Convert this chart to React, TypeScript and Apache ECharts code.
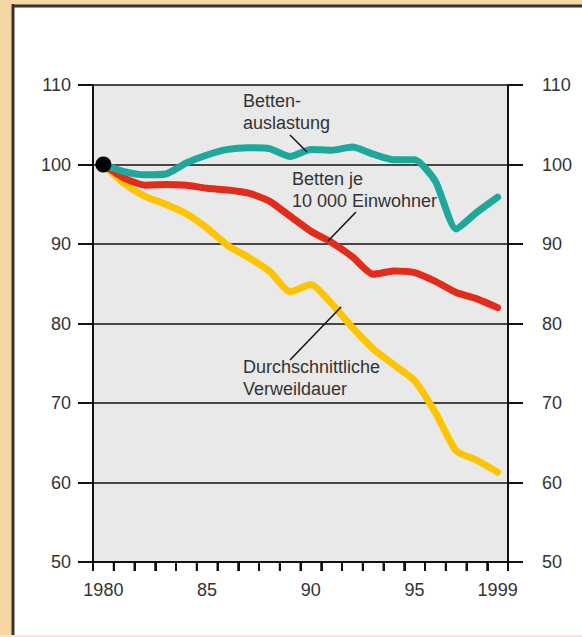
import React, { useEffect, useRef } from 'react';
import * as echarts from 'echarts';

const years = ['1980','1981','1982','1983','1984','1985','1986','1987','1988','1989','1990','1991','1992','1993','1994','1995','1996','1997','1998','1999'];
const xLabelYears = ['1980', '1985', '1990', '1995', '1999'];
const xLabelTexts = ['1980', '85', '90', '95', '1999'];

const bettenauslastung = [100, 99.1, 98.7, 98.8, 100.2, 101.2, 101.9, 102.1, 102.0, 101.0, 101.9, 101.8, 102.2, 101.3, 100.6, 100.6, 97.9, 91.9, 94.0, 95.9];
const bettenJe10000 = [100, 98.3, 97.4, 97.5, 97.4, 97.0, 96.8, 96.4, 95.4, 93.5, 91.6, 90.2, 88.4, 86.2, 86.6, 86.4, 85.3, 83.9, 83.1, 82.0];
const verweildauer = [100, 97.6, 96.0, 95.0, 93.8, 92.0, 89.8, 88.3, 86.6, 84.0, 84.9, 82.5, 79.5, 76.8, 74.8, 72.8, 68.8, 64.0, 62.8, 61.3];
const startPoint = [['1980', 100]];

const yMin = 50;
const yMax = 110;
const yStep = 10;

const FONT = "'Liberation Sans', Arial, sans-serif";
const TXT = '#333333';
const BEIGE = '#f5d7a4';

export default function App() {
  const ref = useRef<HTMLDivElement>(null);
  useEffect(() => {
    if (!ref.current) return;
    const chart = echarts.init(ref.current, undefined, { renderer: 'svg' });
    const yAxisCommon = {
      type: 'value',
      min: yMin,
      max: yMax,
      interval: yStep,
      axisLine: { show: true, lineStyle: { color: '#111', width: 2 } },
      axisTick: { show: true, length: 15, lineStyle: { color: '#111', width: 2 } },
      axisLabel: { color: TXT, fontSize: 18, fontFamily: FONT },
    };
    const tickStyle = { stroke: '#111', lineWidth: 2 };
    chart.setOption({
      animation: false,
      backgroundColor: '#ffffff',
      grid: {
        left: 93, right: 74, top: 85, bottom: 75,
        show: true, backgroundColor: '#e9e9e9', borderWidth: 0,
      },
      graphic: [
        { type: 'rect', shape: { x: 0, y: 0, width: 12, height: 637 }, style: { fill: BEIGE } },
        { type: 'rect', shape: { x: 0, y: 0, width: 582, height: 5 }, style: { fill: BEIGE } },
        { type: 'rect', shape: { x: 0, y: 635, width: 582, height: 2 }, style: { fill: '#f6e3d6' } },
        { type: 'line', shape: { x1: 13, y1: 4, x2: 13, y2: 635 }, style: { stroke: '#3b3129', lineWidth: 3 } },
        { type: 'line', shape: { x1: 12, y1: 6, x2: 582, y2: 6 }, style: { stroke: '#3b3129', lineWidth: 3 } },
        {
          type: 'text', x: 243, y: 90, z: 50,
          style: { text: 'Betten-\nauslastung', fill: TXT, fontSize: 18, fontFamily: FONT, lineHeight: 22, verticalAlign: 'top' },
        },
        { type: 'line', z: 50, shape: { x1: 290, y1: 135, x2: 307, y2: 152 }, style: { stroke: '#111', lineWidth: 1.5 } },
        {
          type: 'text', x: 292, y: 168, z: 50,
          style: { text: 'Betten je\n10 000 Einwohner', fill: TXT, fontSize: 18, fontFamily: FONT, lineHeight: 22, verticalAlign: 'top' },
        },
        { type: 'line', z: 50, shape: { x1: 356, y1: 212, x2: 328, y2: 241 }, style: { stroke: '#111', lineWidth: 1.5 } },
        {
          type: 'text', x: 243, y: 356, z: 50,
          style: { text: 'Durchschnittliche\nVerweildauer', fill: TXT, fontSize: 18, fontFamily: FONT, lineHeight: 22, verticalAlign: 'top' },
        },
        { type: 'line', z: 50, shape: { x1: 341, y1: 307, x2: 290, y2: 360 }, style: { stroke: '#111', lineWidth: 1.5 } },
      ],
      xAxis: {
        type: 'category',
        data: years,
        boundaryGap: true,
        axisLine: { show: true, lineStyle: { color: '#111', width: 2 } },
        axisTick: { show: true, length: 9, interval: 0, lineStyle: { color: '#111', width: 2 } },
        axisLabel: {
          interval: 0,
          hideOverlap: false,
          formatter: (v: string) => {
            const k = xLabelYears.indexOf(v);
            return k >= 0 ? xLabelTexts[k] : '';
          },
          color: TXT, fontSize: 18, fontFamily: FONT, margin: 19,
        },
        splitLine: { show: false },
      },
      yAxis: [
        {
          ...yAxisCommon,
          position: 'left',
          axisLabel: { ...yAxisCommon.axisLabel, margin: 22 },
          splitLine: { show: true, lineStyle: { color: '#111', width: 1.5 } },
        },
        {
          ...yAxisCommon,
          position: 'right',
          axisLabel: { ...yAxisCommon.axisLabel, margin: 34 },
          splitLine: { show: false },
        },
      ],
      series: [
        {
          name: 'Jahresmarken', type: 'custom', clip: false, z: 10, silent: true,
          data: years.map((y) => [y, yMin]),
          renderItem: (_params: any, api: any) => {
            const idx = api.value(0);
            const p = api.coord([idx, yMin]);
            const w = api.size([1, 0])[0];
            const x0 = p[0] - w / 2;
            const children: any[] = [
              { type: 'line', shape: { x1: x0, y1: p[1], x2: x0, y2: p[1] + 9 }, style: tickStyle },
            ];
            if (idx === years.length - 1) {
              children.push({ type: 'line', shape: { x1: x0 + w, y1: p[1], x2: x0 + w, y2: p[1] + 9 }, style: tickStyle });
            }
            return { type: 'group', children };
          },
        },
        {
          name: 'Durchschnittliche Verweildauer', type: 'line', data: verweildauer,
          symbol: 'none', smooth: 0.2, z: 3,
          lineStyle: { color: '#fdc400', width: 7, cap: 'round', join: 'round' },
        },
        {
          name: 'Betten je 10 000 Einwohner', type: 'line', data: bettenJe10000,
          symbol: 'none', smooth: 0.2, z: 4,
          lineStyle: { color: '#e32b1b', width: 7, cap: 'round', join: 'round' },
        },
        {
          name: 'Bettenauslastung', type: 'line', data: bettenauslastung,
          symbol: 'none', smooth: 0.2, z: 5,
          lineStyle: { color: '#1ea89b', width: 7, cap: 'round', join: 'round' },
        },
        {
          name: 'Start', type: 'scatter', data: startPoint, z: 6,
          symbol: 'circle', symbolSize: 16, itemStyle: { color: '#000', opacity: 1 },
        },
      ],
    });
    return () => chart.dispose();
  }, []);
  return <div ref={ref} style={{ position: 'absolute', left: 0, top: 0, width: 582, height: 637 }} />;
}
